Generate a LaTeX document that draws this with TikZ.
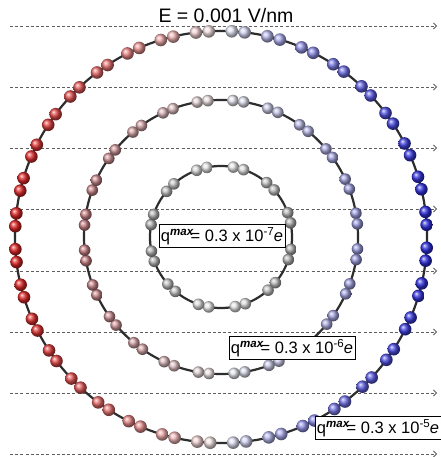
\documentclass[tikz,border=0pt]{standalone}
\usepackage{fontspec}
\setmainfont{Liberation Sans}
\usetikzlibrary{arrows.meta,calc}
\definecolor{myred}{RGB}{230,25,25}
\definecolor{myblue}{RGB}{35,35,230}
\definecolor{midred}{RGB}{205,125,130}
\definecolor{midblue}{RGB}{155,155,230}
\definecolor{chain}{RGB}{45,45,45}
\definecolor{fieldgray}{RGB}{95,95,95}
\begin{document}
\begin{tikzpicture}[x=1pt,y=-1pt,
  fieldline/.style={draw=fieldgray, line width=0.8pt, dash pattern=on 3pt off 2.2pt,
     -{Straight Barb[length=3pt,width=6pt,line width=0.8pt]}},
  chainline/.style={draw=chain, line width=2.2pt},
  qbox/.style={draw=black, fill=white, line width=0.9pt, inner xsep=2pt, inner ysep=3pt,
     font=\fontsize{16.5}{16.5}\selectfont},
  title/.style={font=\fontsize{19.5}{19.5}\selectfont}]
\useasboundingbox (0,0) rectangle (440,457);
\fill[white] (0,0) rectangle (440,457);
% field lines
\foreach \i/\y in {1/26,2/87,3/148,4/209,5/271,6/332,7/393,8/454} {
  \coordinate (l\i) at (10,\y);
  \coordinate (r\i) at (437,\y);
  \draw[fieldline] (l\i) -- (r\i);
}
\node[title, anchor=base] (E) at (226,23) {E = 0.001 V/nm};
% centres
\coordinate (C) at (221,237);
% chains
\draw[chainline] (C) circle[radius=206];
\draw[chainline] (C) circle[radius=137];
\draw[chainline] (C) circle[radius=71];
% outer beads
\foreach \a in {0,10,...,350} {
  \foreach \d in {0,3.6} {
    \pgfmathsetmacro\ang{\a+\d+3}
    \pgfmathsetmacro\c{cos(\ang)}
    \pgfmathtruncatemacro\k{100*(abs(\c)+0.0001)^0.8}
    \ifdim \c pt<0pt \def\col{myred}\else\def\col{myblue}\fi
    \shade[ball color=\col!\k!white!92!gray] ($(C)+(\ang:206)$) circle[radius=6.3];
  }
}
% middle beads
\foreach \a in {0,15,...,345} {
  \foreach \d in {0,4.5} {
    \pgfmathsetmacro\ang{\a+\d+5}
    \pgfmathsetmacro\c{cos(\ang)}
    \pgfmathtruncatemacro\k{100*(abs(\c)+0.0001)^0.8}
    \ifdim \c pt<0pt \def\col{midred}\else\def\col{midblue}\fi
    \shade[ball color=\col!\k!white!90!gray] ($(C)+(\ang:137)$) circle[radius=5.8];
  }
}
% inner beads
\foreach \a in {0,30,...,330} {
  \foreach \d in {0,8.5} {
    \pgfmathsetmacro\ang{\a+\d+10}
    \pgfmathsetmacro\c{cos(\ang)}
    \pgfmathtruncatemacro\k{60*(abs(\c)+0.0001)^0.8}
    \shade[ball color=gray!\k!white!94!gray] ($(C)+(\ang:71)$) circle[radius=5.8];
  }
}
% labels
\node[qbox] (q7) at (222,236) {q\textsuperscript{\textbf{\textit{max}}}\kern-3.5pt= 0.3 x 10\textsuperscript{-7}\kern-0.5pt\textit{e}};
\node[qbox] (q6) at (292,348) {q\textsuperscript{\textbf{\textit{max}}}\kern-3.5pt= 0.3 x 10\textsuperscript{-6}\kern-0.5pt\textit{e}};
\node[qbox] (q5) at (378,428) {q\textsuperscript{\textbf{\textit{max}}}\kern-3.5pt= 0.3 x 10\textsuperscript{-5}\kern-0.5pt\textit{e}};
\end{tikzpicture}
\end{document}
